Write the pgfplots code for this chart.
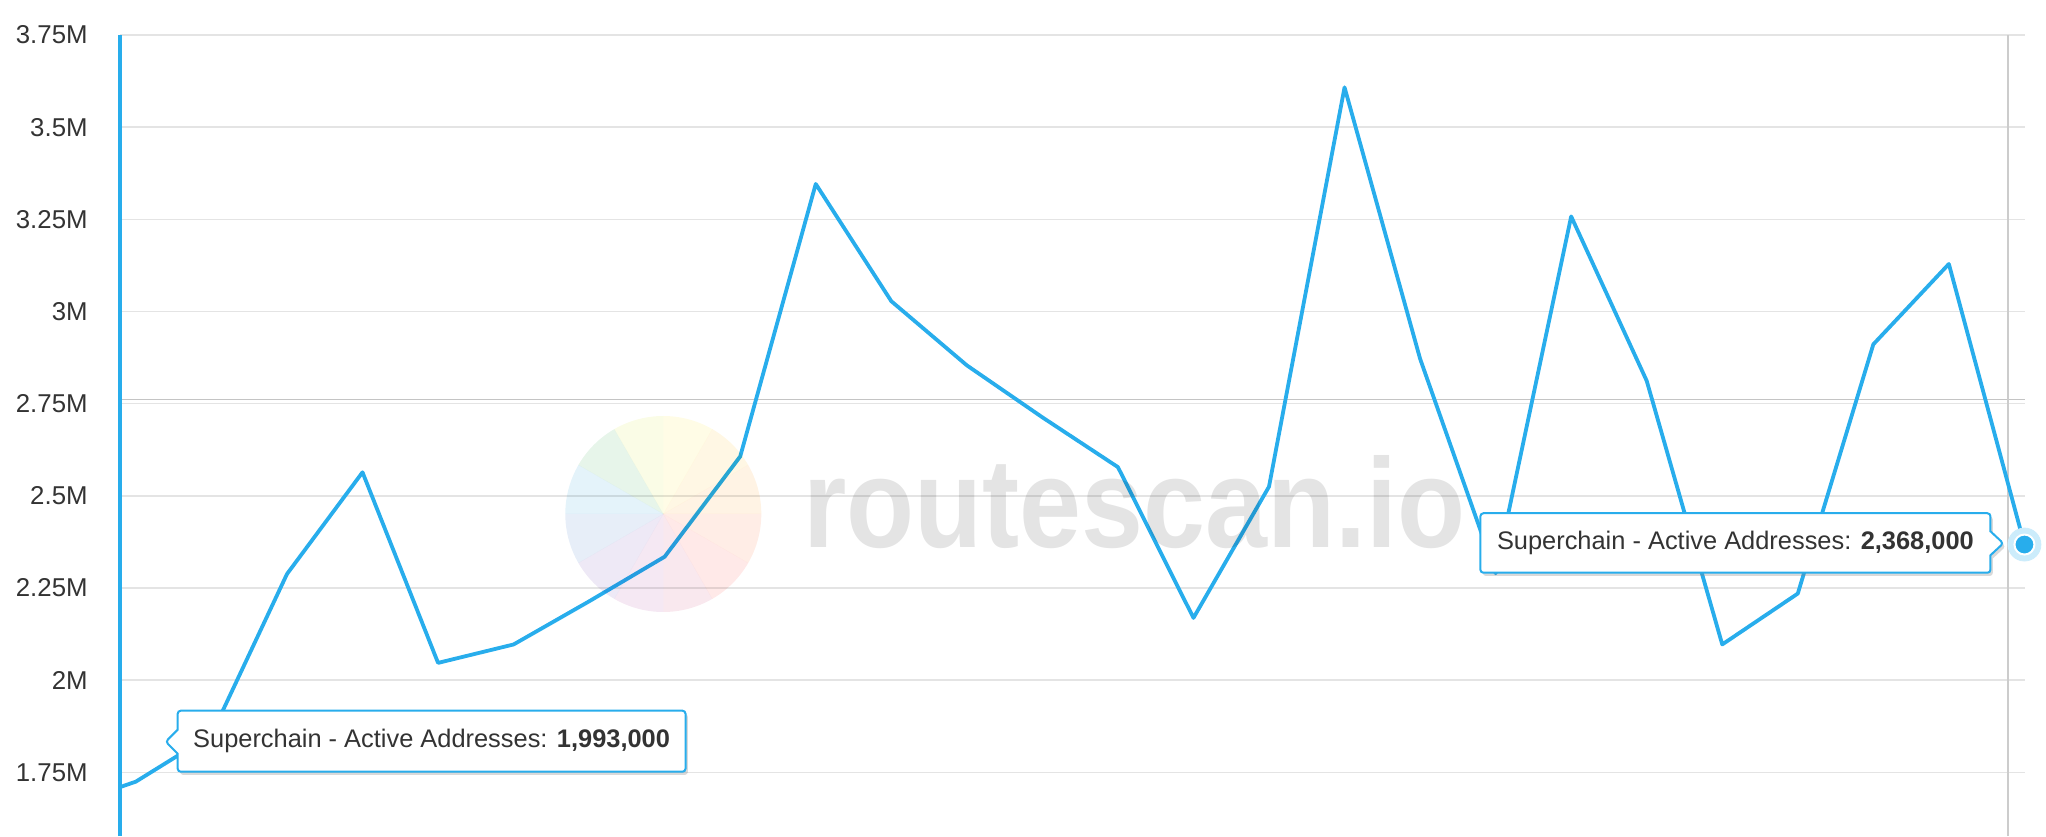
\documentclass[border=0pt]{standalone}
\usepackage{fontspec}
\setmainfont{Liberation Sans}
\usepackage{pgfplots}
\pgfplotsset{compat=1.18}
\usetikzlibrary{shapes.callouts,shadows}
\definecolor{lineblue}{RGB}{40,173,236}
\definecolor{halo}{RGB}{204,236,251}
\definecolor{gridgray}{RGB}{228,228,228}
\definecolor{darkgrid}{RGB}{196,196,196}
\definecolor{vgrey}{RGB}{204,204,204}
\definecolor{textdark}{RGB}{51,51,51}
\definecolor{wm}{RGB}{228,228,228}
\definecolor{wa}{HTML}{FFF3E4}
\definecolor{wb}{HTML}{FFF7E4}
\definecolor{wc}{HTML}{FFFCE6}
\definecolor{wd}{HTML}{FAFCE6}
\definecolor{we}{HTML}{E7F5EA}
\definecolor{wf}{HTML}{E4F3FA}
\definecolor{wg}{HTML}{E7EEF8}
\definecolor{wh}{HTML}{EEE9F6}
\definecolor{wi}{HTML}{F5E8F3}
\definecolor{wj}{HTML}{F9E8EE}
\definecolor{wk}{HTML}{FFE9E8}
\definecolor{wl}{HTML}{FFEDE6}
\pgfplotstableread{
idx val
0 1.654
1 1.725
2 1.852
3 2.288
4 2.564
5 2.047
6 2.097
7 2.214
8 2.335
9 2.607
10 3.346
11 3.028
12 2.854
13 2.713
14 2.578
15 2.169
16 2.525
17 3.608
18 2.872
19 2.290
20 3.258
21 2.812
22 2.097
23 2.235
24 2.911
25 3.129
26 2.368
}\datatable
\begin{document}
\begin{tikzpicture}[x=1pt,y=1pt]
\useasboundingbox (-60,0) rectangle (963,418);
\begin{axis}[
  at={(0,0)}, anchor=south west, scale only axis,
  width=952.5pt, height=400.5pt,
  xmin=0.7895, xmax=26.008, ymin=1.5775, ymax=3.75,
  axis line style={draw=none},
  xtick=\empty,
  ytick={1.75,2,2.25,2.5,2.75,3,3.25,3.5,3.75},
  yticklabels={1.75M,2M,2.25M,2.5M,2.75M,3M,3.25M,3.5M,3.75M},
  ymajorgrids,
  major grid style={color=gridgray, line width=0.8pt},
  major tick length=0pt,
  yticklabel style={font=\fontsize{12.9pt}{15pt}\selectfont, text=textdark, anchor=east, inner sep=0pt, xshift=-16pt},
]
\draw[darkgrid, line width=0.8pt] (axis cs:0.7895,2.7616) -- (axis cs:26.008,2.7616);
\draw[vgrey, line width=0.8pt] (axis cs:25.779,1.5775) -- (axis cs:25.779,3.75);
\addplot[lineblue, line width=1.9pt, line join=round, mark=none] table[x=idx, y=val] {\datatable};
\end{axis}
\begin{axis}[
  at={(0,0)}, anchor=south west, scale only axis,
  width=952.5pt, height=400.5pt,
  xmin=0.7895, xmax=26.008, ymin=1.5775, ymax=3.75,
  hide axis, clip=false,
]
\addplot[halo, only marks, mark=*, mark size=8.25pt, mark options={draw=halo, fill=halo}] coordinates {(26,2.368)};
\addplot[lineblue, only marks, mark=*, mark size=5pt, mark options={fill=lineblue, draw=white, line width=1pt}] coordinates {(26,2.368)};
\end{axis}
\draw[lineblue, line width=2.1pt] (0,0) -- (0,400.5);
% watermark
\begin{scope}[blend mode=multiply]
\foreach \a/\c in {0/wa,30/wb,60/wc,90/wd,120/we,150/wf,180/wg,210/wh,240/wi,270/wj,300/wk,330/wl}{
  \fill[\c] (271.65,161) -- ++(\a:49) arc[start angle=\a, end angle=\a+30, radius=49] -- cycle;
}
\node[anchor=base west, inner sep=0pt, text=wm, xscale=0.877, font=\fontsize{63.5pt}{70pt}\selectfont\bfseries] at (341.5,144) {routescan.io};
\end{scope}
% tooltips
\node[rectangle callout, callout absolute pointer={(22.85,47.15)}, callout pointer width=12pt,
  draw=lineblue, line width=1pt, fill=white, rounded corners=1.5pt,
  drop shadow={shadow xshift=1.2pt, shadow yshift=-1.6pt, opacity=0.3},
  minimum width=253.9pt, minimum height=30.5pt, inner sep=0pt,
  font=\fontsize{12.7pt}{15pt}\selectfont, text=textdark] at (155.8,47.4)
  {Superchain - Active Addresses: \textbf{1,993,000}};
\node[rectangle callout, callout absolute pointer={(941.65,146.35)}, callout pointer width=12pt,
  draw=lineblue, line width=1pt, fill=white, rounded corners=1.5pt,
  drop shadow={shadow xshift=1.2pt, shadow yshift=-1.6pt, opacity=0.3},
  minimum width=255pt, minimum height=29.75pt, inner sep=0pt,
  font=\fontsize{12.7pt}{15pt}\selectfont, text=textdark] at (807.7,146.5)
  {Superchain - Active Addresses: \textbf{2,368,000}};
\end{tikzpicture}
\end{document}
